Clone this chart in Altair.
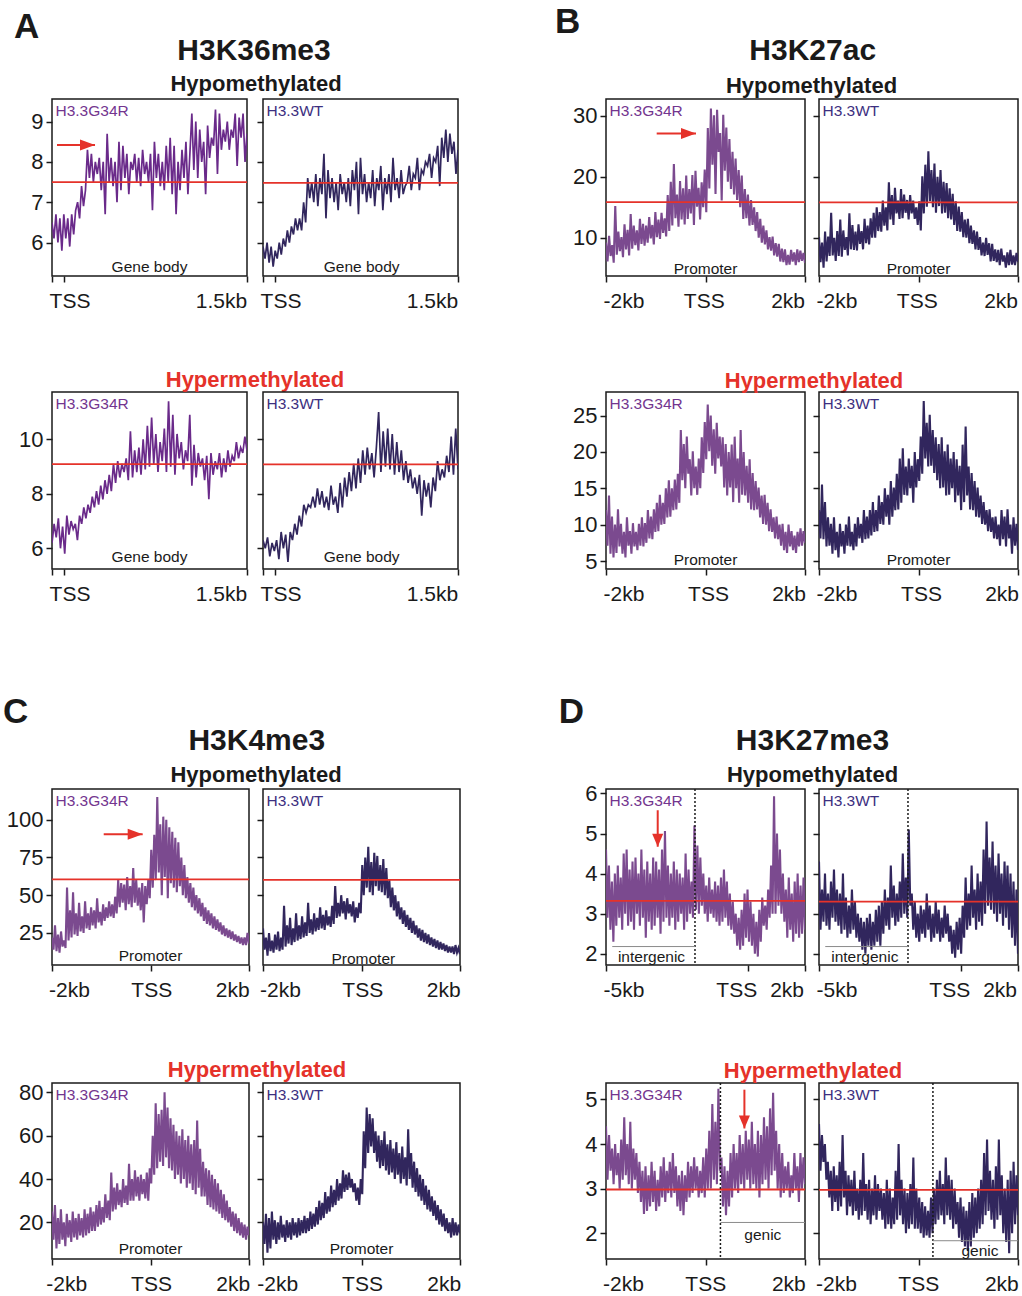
import altair as alt
import numpy as np
import pandas as pd

FONT = "Liberation Sans"
INK = "#1a1a1a"
RED = "#e5322a"
GREY = "#8a8a8a"
G34R_DARK = "#6a2a8a"
G34R = "#7b4a8f"
WT = "#31265d"
G34R_TEXT = "#73358f"
WT_TEXT = "#3d2f80"

# ---------------- H3K36me3 (TSS -> 1.5 kb gene body) ----------------
K36_HYPO_G34R = [
    6.5, 6.1, 6.7, 6.0, 6.6, 5.8, 6.7, 6.1, 6.6, 5.9, 6.7, 6.2, 6.8,
    7.0, 6.6, 7.4, 6.9, 7.3,
    8.3, 7.6, 8.2, 7.5,
    8.0, 7.7, 8.1, 7.3, 8.0, 6.7, 8.7, 7.5, 8.1, 7.4, 8.0, 7.0, 8.5, 7.3, 8.4, 7.6,
    8.2, 7.2, 8.0, 7.8, 8.2, 7.5, 8.1, 7.4, 8.3, 7.7, 8.0, 7.5, 8.2, 6.8, 8.5, 7.6,
    8.2, 7.4, 8.0, 7.3, 8.4, 7.5, 8.6, 7.2, 8.4, 6.7, 8.0, 7.3, 8.3, 7.6, 8.5, 7.2, 8.2,
    9.2, 7.8, 9.0, 7.6, 8.8, 8.0, 8.5, 7.2, 8.9, 8.1, 8.6, 8.4, 9.3, 7.7, 9.2, 8.3,
    8.8, 8.5, 9.0, 8.3, 8.8, 8.6, 9.2, 7.9, 9.1, 8.6, 9.2, 8.0, 8.7,
]
K36_HYPO_WT = [
    5.9, 5.6, 6.0, 5.5, 5.9, 5.4, 5.8, 5.6, 6.0, 5.7, 6.1, 5.9, 6.3, 6.0, 6.4, 6.2,
    6.6, 6.3, 6.6, 6.3, 7.0, 6.5,
    7.6, 7.1, 7.5, 7.0, 7.7, 6.9, 7.6, 7.2, 8.2, 6.6, 7.8, 7.1, 7.6, 7.0, 7.5, 6.8,
    7.7, 7.2, 7.5, 7.0, 7.6, 6.9, 7.8, 7.3, 8.0, 6.7, 8.1, 7.2, 7.7, 7.0, 7.5, 7.1,
    7.8, 6.9, 7.6, 7.3, 7.9, 6.8, 7.6, 7.2, 7.7, 7.0, 8.1, 7.3, 7.6, 7.1, 7.8, 7.2,
    7.4, 7.5, 7.9, 7.3, 7.7, 7.6, 8.1, 7.3, 7.8, 7.7, 8.0, 7.9, 8.2, 7.6, 8.1, 8.0,
    8.4, 7.4, 8.6, 8.1, 8.8, 8.0, 8.7, 8.2, 8.5, 7.7, 8.3,
]
K36_HYPER_G34R = [
    6.2, 6.9, 6.4, 7.1, 6.0, 6.8, 5.8, 7.2, 6.5, 7.0,
    6.7, 6.9, 6.3, 7.2, 6.9, 7.5, 7.1, 7.6, 7.3, 7.9,
    7.5, 8.1, 7.6, 8.3, 7.8, 8.5, 8.0, 8.7, 8.1, 9.1,
    8.4, 9.2, 8.6, 9.1, 8.8, 9.3, 8.5, 10.3, 8.6, 9.6,
    8.8, 9.7, 8.7, 10.0, 8.9, 10.5, 9.0, 10.8, 9.1, 10.2,
    8.8, 9.9, 9.2, 10.4, 8.8, 11.4, 9.0, 10.9, 8.7, 10.2,
    9.3, 9.9, 8.9, 9.6, 9.2, 10.9, 8.3, 9.8, 8.6, 9.5,
    9.0, 9.3, 8.5, 9.4, 7.8, 9.5, 8.7, 9.2, 8.9, 9.5,
    8.6, 9.3, 8.8, 9.6, 9.0, 9.4, 9.2, 9.9, 9.3, 9.7, 9.5, 10.1, 9.6,
]
K36_HYPER_WT = [
    6.3, 6.0, 6.4, 5.7, 6.2, 5.9, 6.3, 5.6, 6.6, 6.0, 6.5, 5.5, 6.6, 6.3, 6.9, 6.5,
    7.2, 6.8, 7.6, 7.3, 7.6, 7.5, 7.9, 7.5, 8.2, 7.6, 8.1, 7.5, 7.9, 7.4, 8.3, 7.6,
    7.9, 7.3, 8.4, 7.5, 8.6, 7.9, 8.8, 8.1, 9.1, 8.2, 9.3, 8.4, 9.6, 8.7, 9.7, 8.9,
    9.5, 8.6, 9.7, 11.0, 8.8, 10.3, 9.0, 10.4, 8.9, 10.2, 8.7, 9.9, 8.8, 9.6, 8.5,
    9.2, 8.4, 8.9, 8.2, 8.6, 8.0, 8.7, 7.2, 8.5, 7.9, 8.4, 7.5, 8.6, 8.1, 9.2, 8.5,
    8.9, 8.6, 9.4, 8.8, 10.1, 8.7, 10.4, 8.9,
]

# ---------------- H3K27ac (promoter, -2 kb .. +2 kb) ----------------
K27AC_HYPO_G34R = [
    9.2, 6.1, 10.3, 7.0, 8.8, 5.9, 15.2, 7.2, 11.0, 7.8, 10.1, 6.8, 12.2, 8.1, 11.3, 7.1,
    13.9, 8.2, 12.0, 8.8, 11.2, 7.9, 13.1, 9.0, 12.3, 8.7, 12.0, 9.2, 13.4, 9.9, 12.1, 8.9,
    14.2, 10.1, 13.0, 9.8, 14.1, 10.8, 13.2, 10.2,
    17.0, 11.1, 19.2, 12.0, 22.1, 13.2, 17.1, 11.8, 19.3, 13.0, 18.1, 12.2, 20.2, 13.1,
    18.0, 14.0, 20.3, 12.1, 21.0, 15.1, 18.2, 13.0, 19.1, 15.0, 21.2, 14.2,
    28.0, 18.1, 31.2, 22.0, 30.1, 17.2, 31.0, 24.1, 27.2, 16.1, 30.2, 21.0, 28.1, 19.2,
    26.2, 18.0, 24.1, 17.1,
    23.0, 16.2, 21.1, 15.0, 20.2, 13.1, 18.0, 13.2, 17.1, 12.0, 16.2, 12.1,
    15.0, 11.1, 14.2, 10.0, 13.1, 9.2, 12.0, 8.9, 11.2, 8.1, 10.1, 7.9, 10.2, 7.1, 9.1, 6.9,
    9.0, 6.1, 8.2, 6.0, 8.1, 5.5, 7.2, 5.6, 8.0, 6.1, 7.6, 5.5, 8.1, 6.0, 7.9, 6.2, 7.5, 5.9,
]
K27AC_HYPO_WT = [
    10.1, 6.0, 9.2, 5.1, 11.0, 6.1, 10.2, 7.0, 14.1, 7.1, 10.0, 6.2, 11.1, 7.0, 13.0, 6.9,
    11.2, 8.0, 10.1, 7.1, 14.0, 8.1, 12.1, 8.0, 11.0, 7.9, 12.2, 9.0, 11.1, 8.1, 13.1, 9.1,
    12.0, 8.9, 13.2, 10.0,
    14.1, 10.0, 15.0, 11.1, 14.2, 11.0, 16.1, 12.0, 15.0, 11.2,
    19.1, 13.0, 17.0, 12.1, 18.2, 14.0, 16.1, 13.1, 18.0, 13.2, 17.1, 14.1, 16.2, 13.0,
    17.0, 14.0, 16.1, 13.1,
    15.0, 12.1, 16.0, 11.2,
    20.1, 14.0, 22.0, 15.1, 24.2, 16.0, 21.1, 15.0, 22.2, 14.1, 20.0, 15.2, 21.1, 14.0,
    19.2, 14.1, 19.0, 13.2,
    18.1, 13.0, 17.2, 12.1, 16.0, 11.1, 15.1, 11.0, 14.2, 10.1, 13.0, 10.0, 13.1, 9.1,
    12.0, 9.0, 11.2, 8.1,
    11.0, 8.0, 10.1, 7.1, 9.2, 7.0, 10.0, 7.2, 9.1, 6.1, 9.0, 6.2, 8.1, 6.0, 8.0, 5.5,
    8.2, 6.1, 7.1, 5.1, 7.6, 5.5, 8.0, 5.6, 7.1, 5.5, 7.5, 6.0,
]
K27AC_HYPER_G34R = [
    12.0, 7.1, 14.0, 6.0, 11.1, 5.5, 10.0, 6.1, 12.1, 7.0,
    10.1, 6.0, 9.0, 5.5, 11.0, 7.1, 9.1, 6.0, 10.2, 7.0, 9.0, 6.5, 10.1, 7.1, 11.0, 7.0,
    10.2, 7.5, 12.0, 8.1, 11.1, 8.0,
    12.1, 9.0, 13.0, 9.1, 14.1, 10.0, 13.0, 10.1, 15.0, 11.0, 16.1, 11.1, 15.0, 12.0,
    16.2, 12.1, 17.0, 13.0,
    23.0, 16.1, 21.1, 15.0, 22.1, 17.0, 19.0, 14.0, 20.1, 15.0, 18.0, 14.1, 19.1, 15.0,
    22.0, 17.1, 24.1, 19.0, 26.5, 20.1, 25.0, 18.1, 23.1, 17.0, 24.0, 19.1, 22.1, 18.0,
    22.0, 15.1, 21.1, 14.0, 20.0, 15.1, 21.0, 13.1, 22.1, 15.0, 19.1, 13.0, 23.0, 14.1,
    20.0, 14.0, 18.1, 13.0, 19.0, 12.1, 17.1, 12.0,
    16.0, 12.1, 15.1, 11.0, 14.0, 10.1, 14.1, 10.0, 13.0, 9.1, 12.1, 9.0, 11.0, 8.1,
    11.1, 8.0, 10.0, 7.1,
    10.1, 6.5, 9.0, 6.1, 10.0, 7.0, 9.1, 6.5, 8.5, 6.1, 9.0, 7.0, 9.5, 7.1, 9.1, 7.5,
]
K27AC_HYPER_WT = [
    12.0, 8.1, 15.5, 8.0, 13.1, 7.0, 11.0, 7.1,
    10.1, 6.0, 11.0, 6.5, 9.0, 5.5, 10.1, 7.0, 9.1, 6.0, 10.0, 7.1, 11.1, 7.0, 9.0, 6.5,
    10.1, 7.0, 11.0, 8.1, 10.1, 7.5, 12.0, 8.0, 11.1, 8.1,
    12.0, 8.5, 13.1, 9.0, 12.0, 9.1, 14.0, 10.1, 13.1, 10.0, 15.0, 11.1, 14.1, 10.0,
    16.0, 11.1, 15.1, 12.0, 17.0, 12.1,
    19.1, 13.0, 20.5, 14.1, 18.0, 14.0, 19.1, 15.0, 18.1, 13.0, 20.0, 15.1, 19.0, 16.0,
    22.1, 17.0, 27.0, 19.1, 24.0, 18.0, 25.1, 18.1, 23.0, 17.1,
    22.0, 16.1, 21.1, 15.0, 22.0, 15.1, 20.1, 14.0, 21.0, 14.1, 19.1, 15.0, 20.0, 13.1,
    19.0, 14.0, 18.1, 12.0, 21.0, 13.1, 23.5, 14.0, 18.0, 12.1, 17.1, 12.0,
    16.0, 11.1, 15.1, 11.0, 14.0, 10.1, 13.1, 10.0, 12.0, 9.1, 12.1, 9.0, 11.0, 8.1,
    11.1, 8.0,
    10.0, 7.1, 12.0, 8.0, 11.1, 7.0, 12.1, 8.1, 10.0, 6.0, 11.0, 7.1, 10.1, 6.5,
]

# ---------------- H3K4me3 (promoter, -2 kb .. +2 kb) ----------------
K4_HYPO_G34R = [
    22, 14, 30, 13, 24, 12, 26, 16, 20, 15,
    55, 20, 40, 22, 52, 24, 38, 23, 45, 26, 36, 25, 46, 28, 38, 27, 42, 30, 40, 28,
    48, 32, 39, 30, 44, 33, 42, 35, 46, 36, 44, 35, 49, 38,
    60, 42, 58, 45, 57, 40, 62, 44, 56, 42, 68, 45, 60, 43, 55, 40, 58, 32, 56, 44, 60, 48,
    80, 55, 90, 60, 115, 65, 97, 50, 102, 62, 100, 48, 95, 58, 92, 55, 88, 52, 85, 56,
    75, 50, 70, 48, 62, 45, 58, 42, 55, 40, 50, 38, 48, 36, 45, 33, 42, 31,
    40, 30, 38, 28, 36, 27, 34, 26, 32, 24, 30, 23, 28, 22, 27, 21, 26, 20, 24, 19,
    23, 18, 22, 17, 22, 17, 25, 18,
]
K4_HYPO_WT = [
    28, 14, 22, 10, 25, 13, 20, 12, 24, 14, 26, 13, 22, 14,
    43, 16, 30, 18, 35, 17, 28, 19, 38, 20, 30, 21, 36, 22, 32, 23, 45, 25, 34, 24,
    38, 26, 35, 27, 42, 28, 37, 27, 40, 30, 36, 29, 43, 31,
    56, 35, 45, 36, 50, 38, 46, 34, 48, 38, 44, 36, 46, 32, 42, 35, 45, 38,
    70, 50, 75, 55, 82, 52, 72, 50, 78, 56, 76, 53, 70, 52, 74, 50, 68, 48,
    60, 42, 55, 40, 50, 36, 46, 34, 42, 31, 40, 29, 37, 27, 35, 25, 33, 24,
    30, 22, 28, 20, 27, 19, 25, 18, 24, 17, 22, 16, 21, 15, 20, 14, 19, 14, 18, 13,
    17, 12, 16, 12, 16, 11, 17, 12, 15, 11,
]
K4_HYPER_G34R = [
    25, 12, 28, 8, 22, 10, 26, 12, 20, 9, 24, 13, 21, 11, 25, 13, 22, 12, 24, 14, 22, 13,
    26, 14, 24, 15, 27, 16, 25, 16, 28, 18, 30, 19, 27, 20, 33, 22, 30, 21,
    43, 25, 36, 26, 38, 28, 35, 27, 40, 29, 37, 28, 47, 30, 40, 30, 44, 32, 41, 30,
    42, 33, 40, 31, 43, 30, 45, 38,
    60, 42, 75, 45, 70, 48, 72, 46, 80, 50, 73, 45,
    68, 44, 65, 40, 62, 42, 60, 38, 63, 40, 58, 36, 60, 38, 56, 35, 58, 33, 67, 36, 54, 32,
    48, 32, 45, 28, 44, 27, 42, 26, 40, 25, 38, 24, 35, 22, 33, 21, 30, 20,
    27, 18, 25, 16, 24, 15, 22, 14, 20, 13, 19, 12, 18, 14,
]
K4_HYPER_WT = [
    20, 10, 24, 6, 22, 8, 25, 12, 21, 10, 20, 12, 23, 13, 19, 11, 21, 13, 20, 12, 22, 14,
    20, 13, 22, 14, 21, 15, 23, 15, 22, 16, 25, 17, 24, 18, 27, 19, 30, 21, 29, 22,
    34, 24, 32, 25, 37, 27, 35, 28, 40, 30, 38, 31, 44, 34, 42, 35, 43, 36, 40, 34,
    38, 30, 36, 28, 40, 33,
    62, 45, 73, 52, 70, 55, 68, 52,
    62, 48, 60, 45, 58, 46, 62, 44, 56, 42, 58, 43, 54, 40, 57, 42, 52, 38, 55, 40,
    50, 37, 63, 40, 52, 36,
    48, 34, 45, 32, 42, 30, 40, 28, 37, 26, 35, 25, 32, 23, 30, 21, 28, 19, 26, 18,
    24, 16, 22, 15, 20, 13, 22, 14, 20, 14, 19, 15,
]

# ---------------- H3K27me3 ----------------
K27ME3_HYPO_G34R = [
    4.6, 2.9, 4.2, 2.6, 3.8, 2.3, 4.0, 2.7,
    4.2, 2.9, 3.9, 2.6, 4.5, 3.0, 4.6, 2.7, 4.1, 2.8, 4.3, 2.6, 4.4, 3.0, 4.0, 2.7,
    4.6, 2.9, 4.1, 2.4, 4.3, 2.8, 4.0, 2.6, 4.4, 2.7, 4.3, 2.9, 4.1, 2.5, 4.6, 2.8,
    5.06, 2.9, 4.2, 2.7, 4.0, 2.9, 4.3, 2.6, 4.1, 2.8, 4.0, 3.0, 3.9, 2.6, 4.5, 2.8,
    4.1, 3.0, 3.8, 2.9,
    5.2, 3.1,
    4.7, 3.0, 4.4, 3.2, 4.0, 3.0, 3.7, 2.8, 3.9, 3.0, 3.6, 2.9, 3.8, 2.8, 3.7, 2.7,
    3.9, 2.8, 4.1, 2.9, 3.8, 2.7, 3.5, 2.6, 3.3, 2.5,
    3.0, 2.2, 2.9, 2.1, 3.1, 2.2, 3.5, 2.4, 3.6, 2.3, 3.3, 2.2, 3.0, 2.0, 2.8, 1.93,
    3.1, 2.3,
    3.4, 2.7, 3.2, 2.6, 3.6, 2.9, 4.2, 3.0,
    5.93, 3.0, 5.0, 3.2, 4.6, 3.0,
    4.0, 2.8, 3.6, 2.4, 3.9, 2.6, 3.5, 2.3, 3.8, 2.5, 4.0, 2.4, 3.7, 2.5, 3.9, 2.6,
]
K27ME3_HYPO_WT = [
    4.3, 2.6, 3.6, 2.8, 4.0, 2.7, 3.5, 2.6, 3.8, 2.9, 4.1, 2.8, 3.6, 2.7,
    3.5, 2.5, 4.0, 2.6, 3.4, 2.4, 3.2, 2.5, 3.6, 2.6, 3.3, 2.4, 3.0, 2.3,
    2.9, 2.1, 2.8, 2.0, 2.9, 2.2, 3.0, 2.1, 2.8, 2.2, 3.1, 2.3, 3.2, 2.2, 3.3, 2.5,
    3.6, 2.7, 3.4, 2.6, 4.2, 2.9, 3.7, 2.7, 3.5, 2.8, 3.8, 2.9, 4.5, 3.0, 3.9, 2.9,
    5.1, 3.2,
    3.5, 2.6, 3.3, 2.4, 3.0, 2.3, 3.2, 2.5, 3.1, 2.4, 3.5, 2.6, 3.2, 2.3, 3.0, 2.4,
    3.3, 2.5, 3.1, 2.3, 2.9, 2.4, 3.2, 2.5, 3.0, 2.3,
    2.7, 2.0, 2.6, 1.9, 2.8, 2.1, 2.9, 2.0,
    3.2, 2.4, 3.9, 2.6, 3.5, 2.7, 4.2, 2.9, 3.6, 2.6, 4.0, 2.8, 3.8, 2.7,
    4.6, 3.0, 5.3, 3.2, 4.4, 3.1, 4.8, 3.0, 4.2, 2.8, 4.5, 3.0, 4.0, 2.7, 4.3, 2.9,
    4.2, 2.6, 4.0, 2.4, 3.8, 2.2, 3.6, 2.0,
]
K27ME3_HYPER_G34R = [
    4.4, 3.2, 4.2, 3.4, 3.9, 3.1, 4.0, 3.3, 3.8, 3.0, 4.1, 3.2, 4.6, 3.3, 4.0, 3.1,
    4.5, 3.0, 3.9, 3.2, 3.8, 2.9, 3.6, 2.7, 3.4, 2.43,
    3.5, 2.5, 3.3, 2.6, 3.6, 2.7, 3.4, 2.5, 3.2, 2.6, 3.5, 2.8, 3.7, 2.7, 3.4, 2.9,
    3.6, 2.8, 3.8, 2.9, 3.5, 2.6, 3.3, 2.5,
    3.4, 2.4, 3.3, 2.7, 3.6, 2.8, 3.5, 2.9, 3.7, 3.0, 3.5, 2.8, 3.4, 2.9, 3.7, 2.8,
    3.9, 3.0,
    4.3, 3.0, 4.9, 3.2, 4.5, 3.1, 5.24, 3.4,
    3.7, 2.6, 3.5, 2.4, 3.4, 2.6, 3.8, 2.8,
    4.0, 3.0, 3.8, 2.9, 4.2, 3.1, 4.0, 3.0, 4.3, 3.2, 4.1, 3.0, 4.5, 3.1,
    4.0, 3.0, 4.3, 2.8, 4.2, 3.1, 4.6, 3.2, 4.4, 3.0, 4.8, 3.3, 5.15, 3.4, 4.3, 3.0,
    4.0, 2.8,
    3.8, 2.9, 3.5, 3.0, 3.6, 2.8, 3.3, 2.9, 3.8, 3.0, 3.5, 2.7, 3.8, 3.0, 3.7, 3.1,
]
K27ME3_HYPER_WT = [
    4.45, 3.4, 4.2, 3.6, 4.0, 3.2,
    3.6, 2.8, 3.4, 2.5, 3.5, 2.7, 3.3, 2.5, 3.6, 2.6, 4.2, 2.8, 3.4, 2.4, 3.3, 2.6,
    3.2, 2.4, 3.4, 2.5, 3.0, 2.3, 3.2, 2.4, 3.8, 2.5, 3.1, 2.3, 3.2, 2.2, 3.0, 2.4,
    3.3, 2.3, 3.1, 2.5,
    3.0, 2.3, 2.9, 2.1, 3.2, 2.2, 3.0, 2.1, 2.8, 2.2, 3.4, 2.3, 4.0, 2.4, 3.2, 2.2,
    3.0, 2.0, 2.9, 2.1, 3.1, 2.2, 3.7, 2.1, 3.0, 2.1, 2.8, 2.0, 2.7, 1.9, 2.6, 1.95,
    2.5, 1.9,
    2.8, 2.0, 3.0, 2.2, 3.2, 2.3, 3.4, 2.4, 3.1, 2.2, 3.7, 2.4, 3.3, 2.3, 3.2, 2.1,
    3.0, 2.2,
    2.7, 1.9, 2.8, 1.8, 2.6, 1.7, 2.5, 1.6, 2.7, 1.7, 2.9, 1.9, 2.8, 2.0, 3.0, 2.1,
    3.2, 2.2, 3.8, 2.4, 4.1, 2.5, 3.4, 2.3, 3.2, 2.1, 3.5, 2.3, 4.1, 2.4, 3.3, 2.0,
    3.0, 1.8, 3.2, 1.55, 3.4, 2.0, 3.6, 2.2, 3.3, 2.4,
]

# Arrow heads as custom symbol paths (tip at the origin)
RIGHT_HEAD = "M-2,-0.73L0,0L-2,0.73Z"
DOWN_HEAD = "M-0.85,-2L0,0L0.85,-2Z"


def pixel_text(txt, x, y, size, color=INK, weight="normal", align="center"):
    return alt.Chart(pd.DataFrame({"t": [txt]})).mark_text(
        font=FONT, fontSize=size, fontWeight=weight, color=color,
        align=align, baseline="alphabetic",
    ).encode(x=alt.value(x), y=alt.value(y), text="t:N")


def panel(values, color, width, height, xdom, xticks, xlabels, ydom, yticks,
          left, name, name_color, region, region_xy, red=None, dotted=None,
          bracket=None, arrow=None, extra=(), line_width=2.1):
    trace = pd.DataFrame({
        "pos": np.linspace(xdom[0], xdom[1], len(values)),
        "signal": values,
    })
    # every layer carries the same axis definition so they merge into one
    x_axis = alt.Axis(values=xticks, labels=False, ticks=True, tickSize=6,
                      tickWidth=1.5, tickColor=INK, domain=False, grid=False,
                      title=None)
    y_axis = alt.Axis(values=yticks, labels=left, ticks=True, tickSize=6,
                      tickWidth=1.5, tickColor=INK, domain=False, grid=False,
                      title=None, labelFont=FONT, labelFontSize=22,
                      labelColor=INK, labelPadding=3)

    def X(field):
        return alt.X(field, axis=x_axis)

    def Y(field):
        return alt.Y(field, axis=y_axis)

    layers = [
        alt.Chart(trace).mark_line(color=color, strokeWidth=line_width,
                                   clip=True).encode(
            x=alt.X("pos:Q", scale=alt.Scale(domain=list(xdom), nice=False,
                                             zero=False), axis=x_axis),
            y=alt.Y("signal:Q", scale=alt.Scale(domain=list(ydom), nice=False,
                                                zero=False), axis=y_axis),
        )
    ]
    if red is not None:
        layers.append(
            alt.Chart(pd.DataFrame({"signal": [red]}))
            .mark_rule(color=RED, strokeWidth=1.8)
            .encode(y=Y("signal:Q"))
        )
    if dotted is not None:
        layers.append(
            alt.Chart(pd.DataFrame({"pos": [dotted]}))
            .mark_rule(color=INK, strokeWidth=1.5, strokeDash=[2, 2])
            .encode(x=X("pos:Q"))
        )
    if bracket is not None:
        b0, b1, by, btxt, bx, bty = bracket
        layers.append(
            alt.Chart(pd.DataFrame({"pos": [b0], "pos2": [b1], "signal": [by]}))
            .mark_rule(color=GREY, strokeWidth=1)
            .encode(x=X("pos:Q"), x2="pos2:Q", y=Y("signal:Q"))
        )
        layers.append(pixel_text(btxt, bx, bty, 15.5))
    if arrow is not None:
        (ax0, ay0), (ax1, ay1) = arrow
        layers.append(
            alt.Chart(pd.DataFrame({"pos": [ax0], "pos2": [ax1],
                                    "signal": [ay0], "signal2": [ay1]}))
            .mark_rule(color=RED, strokeWidth=2)
            .encode(x=X("pos:Q"), x2="pos2:Q", y=Y("signal:Q"), y2="signal2:Q")
        )
        horizontal = ay0 == ay1
        layers.append(
            alt.Chart(pd.DataFrame({"pos": [ax1], "signal": [ay1]}))
            .mark_point(shape=RIGHT_HEAD if horizontal else DOWN_HEAD,
                        size=225 if horizontal else 169, filled=True,
                        color=RED, opacity=1, strokeWidth=0)
            .encode(x=X("pos:Q"), y=Y("signal:Q"))
        )
    # x tick labels under the frame
    layers.append(
        alt.Chart(pd.DataFrame({"pos": [p for p, _ in xlabels],
                                "t": [t for _, t in xlabels]}))
        .mark_text(font=FONT, fontSize=21, color=INK, baseline="alphabetic")
        .encode(x=X("pos:Q"), y=alt.value(height + 31.5), text="t:N")
    )
    layers.append(pixel_text(name, 3.5, 16.5, 15.5, color=name_color, align="left"))
    if region:
        layers.append(pixel_text(region, region_xy[0], region_xy[1], 15.5))
    layers.extend(extra)
    return alt.layer(*layers).properties(width=width, height=height)


def headers(letter, letter_xy, title, title_x, sub, sub_xy):
    return [
        pixel_text(letter, letter_xy[0], letter_xy[1], 35, weight="bold", align="left"),
        pixel_text(title, title_x, -39, 30, weight="bold"),
        pixel_text(sub, sub_xy[0], sub_xy[1], 22, weight="bold"),
    ]


def hyper_title(x, y):
    return [pixel_text("Hypermethylated", x, y, 22, color=RED, weight="bold")]


def gap(width, height):
    """Invisible cell used to set the distances between panels."""
    return alt.Chart(pd.DataFrame({"v": [0]})).mark_point(opacity=0).encode(
        x=alt.value(0), y=alt.value(0)
    ).properties(width=width, height=height,
                 view=alt.ViewBackground(stroke="transparent", strokeOpacity=0))


# ---------------- section A: H3K36me3 ----------------
W, H = 195, 177
xa = dict(xdom=(-100, 1500), xticks=[-100, 0, 1500],
          xlabels=[(48, "TSS"), (1290, "1.5kb")])
ya_top = dict(ydom=(5.17, 9.56), yticks=[6, 7, 8, 9])
ya_bot = dict(ydom=(5.24, 11.74), yticks=[6, 8, 10])
a1 = panel(K36_HYPO_G34R, G34R_DARK, W, H, **xa, **ya_top, left=True,
           name="H3.3G34R", name_color=G34R_TEXT, region="Gene body",
           region_xy=(97.5, 172.7), red=7.5, line_width=1.7,
           arrow=((-59, 8.42), (253, 8.42)),
           extra=headers("A", (-38, -61), "H3K36me3", 202,
                         "Hypomethylated", (204, -8)))
a2 = panel(K36_HYPO_WT, WT, W, H, **xa, **ya_top, left=False,
           name="H3.3WT", name_color=WT_TEXT, region="Gene body",
           region_xy=(98.7, 172.7), red=7.48, line_width=1.7)
a3 = panel(K36_HYPER_G34R, G34R_DARK, W, H, **xa, **ya_bot, left=True,
           name="H3.3G34R", name_color=G34R_TEXT, region="Gene body",
           region_xy=(97.5, 169.7), red=9.09, line_width=1.7,
           extra=hyper_title(203, -5))
a4 = panel(K36_HYPER_WT, WT, W, H, **xa, **ya_bot, left=False,
           name="H3.3WT", name_color=WT_TEXT, region="Gene body",
           region_xy=(98.7, 169.7), red=9.08, line_width=1.7)

# ---------------- section B: H3K27ac ----------------
W, H = 199, 177
xb_top = dict(xdom=(-2000, 2000), xticks=[-2000, 0, 2000],
              xlabels=[(-1640, "-2kb"), (-25, "TSS"), (1660, "2kb")])
xb_bot = dict(xdom=(-2000, 2000), xticks=[-2000, 0, 2000],
              xlabels=[(-1640, "-2kb"), (60, "TSS"), (1680, "2kb")])
yb_top = dict(ydom=(3.72, 32.78), yticks=[10, 20, 30])
yb_bot = dict(ydom=(3.9, 28.24), yticks=[5, 10, 15, 20, 25])
b1 = panel(K27AC_HYPO_G34R, G34R, W, H, **xb_top, **yb_top, left=True,
           name="H3.3G34R", name_color=G34R_TEXT, region="Promoter",
           region_xy=(99.5, 175), red=15.85,
           arrow=((-981, 27.1), (-191, 27.1)),
           extra=headers("B", (-51, -66), "H3K27ac", 206.7,
                         "Hypomethylated", (205.5, -6)))
b2 = panel(K27AC_HYPO_WT, WT, W, H, **xb_top, **yb_top, left=False,
           name="H3.3WT", name_color=WT_TEXT, region="Promoter",
           region_xy=(99.5, 175), red=15.8)
b3 = panel(K27AC_HYPER_G34R, G34R, W, H, **xb_bot, **yb_bot, left=True,
           name="H3.3G34R", name_color=G34R_TEXT, region="Promoter",
           region_xy=(99.5, 173), extra=hyper_title(208, -4))
b4 = panel(K27AC_HYPER_WT, WT, W, H, **xb_bot, **yb_bot, left=False,
           name="H3.3WT", name_color=WT_TEXT, region="Promoter",
           region_xy=(99.5, 173))

# ---------------- section C: H3K4me3 ----------------
W, H = 197, 176
xc_top = dict(xdom=(-2000, 2000), xticks=[-2000, 0, 2000],
              xlabels=[(-1645, "-2kb"), (26, "TSS"), (1670, "2kb")])
xc_bot = dict(xdom=(-2000, 2000), xticks=[-2000, 0, 2000],
              xlabels=[(-1700, "-2kb"), (20, "TSS"), (1680, "2kb")])
yc_top = dict(ydom=(3.8, 120.3), yticks=[25, 50, 75, 100])
yc_bot = dict(ydom=(3.1, 84.3), yticks=[20, 40, 60, 80])
c1 = panel(K4_HYPO_G34R, G34R, W, H, **xc_top, **yc_top, left=True,
           name="H3.3G34R", name_color=G34R_TEXT, region="Promoter",
           region_xy=(98.5, 172.4), red=60.5,
           arrow=((-950, 90.4), (-159, 90.4)),
           extra=headers("C", (-49, -66), "H3K4me3", 204.8,
                         "Hypomethylated", (204, -7)))
c2 = panel(K4_HYPO_WT, WT, W, H, **xc_top, **yc_top, left=False,
           name="H3.3WT", name_color=WT_TEXT, region="Promoter",
           region_xy=(100.3, 174.7), red=60.2)
c3 = panel(K4_HYPER_G34R, G34R, W, H, **xc_bot, **yc_bot, left=True,
           name="H3.3G34R", name_color=G34R_TEXT, region="Promoter",
           region_xy=(98.5, 170.7), extra=hyper_title(205, -6))
c4 = panel(K4_HYPER_WT, WT, W, H, **xc_bot, **yc_bot, left=False,
           name="H3.3WT", name_color=WT_TEXT, region="Promoter",
           region_xy=(98.5, 170.7))

# ---------------- section D: H3K27me3 ----------------
W, H = 199, 176
xd_top = dict(xdom=(-5000, 2000), xticks=[-5000, 0, 2000],
              xlabels=[(-4370, "-5kb"), (-400, "TSS"), (1370, "2kb")])
xd_bot = dict(xdom=(-2000, 2000), xticks=[-2000, 0, 2000],
              xlabels=[(-1650, "-2kb"), (5, "TSS"), (1675, "2kb")])
yd_top = dict(ydom=(1.72, 6.11), yticks=[2, 3, 4, 5, 6])
yd_bot = dict(ydom=(1.42, 5.37), yticks=[2, 3, 4, 5])
d1 = panel(K27ME3_HYPO_G34R, G34R, W, H, **xd_top, **yd_top, left=True,
           name="H3.3G34R", name_color=G34R_TEXT, region=None,
           region_xy=None, red=3.32, dotted=-1870,
           bracket=(-4780, -1870, 2.18, "intergenic", 45.5, 172.7),
           arrow=((-3181, 5.58), (-3181, 4.67)),
           extra=headers("D", (-47.3, -66), "H3K27me3", 206.5,
                         "Hypomethylated", (206.5, -7)))
d2 = panel(K27ME3_HYPO_WT, WT, W, H, **xd_top, **yd_top, left=False,
           name="H3.3WT", name_color=WT_TEXT, region=None,
           region_xy=None, red=3.3, dotted=-1870,
           bracket=(-4780, -1870, 2.18, "intergenic", 45.8, 172.7))
d3 = panel(K27ME3_HYPER_G34R, G34R, W, H, **xd_bot, **yd_bot, left=True,
           name="H3.3G34R", name_color=G34R_TEXT, region=None,
           region_xy=None, red=2.98, dotted=300,
           bracket=(300, 2000, 2.24, "genic", 156.8, 156.7),
           arrow=((782, 5.22), (782, 4.35)),
           extra=hyper_title(207, -5))
d4 = panel(K27ME3_HYPER_WT, WT, W, H, **xd_bot, **yd_bot, left=False,
           name="H3.3WT", name_color=WT_TEXT, region=None,
           region_xy=None, red=2.97, dotted=290,
           bracket=(290, 2000, 1.83, "genic", 161, 173.4))

# 7 x 7 grid: panels separated by invisible gap cells
PAIR_GAP, SECTION_GAP = 14, 146


def panel_row(p1, p2, p3, p4):
    return [p1, gap(PAIR_GAP, 1), p2, gap(SECTION_GAP, 1),
            p3, gap(PAIR_GAP, 1), p4]


def gap_row(height):
    return [gap(1, height) for _ in range(7)]


cells = (
    panel_row(a1, a2, b1, b2) + gap_row(116)
    + panel_row(a3, a4, b3, b4) + gap_row(220)
    + panel_row(c1, c2, d1, d2) + gap_row(118)
    + panel_row(c3, c4, d3, d4)
)

chart = alt.concat(
    *cells, columns=7, spacing=0, bounds="flush", align="each"
).properties(
    padding={"left": 2, "top": 4, "right": 0, "bottom": 0},
    background="white",
).configure_view(
    stroke=INK, strokeWidth=1.5
).configure_text(font=FONT)

chart.save("out.html", embed_options={"renderer": "svg", "actions": False})
